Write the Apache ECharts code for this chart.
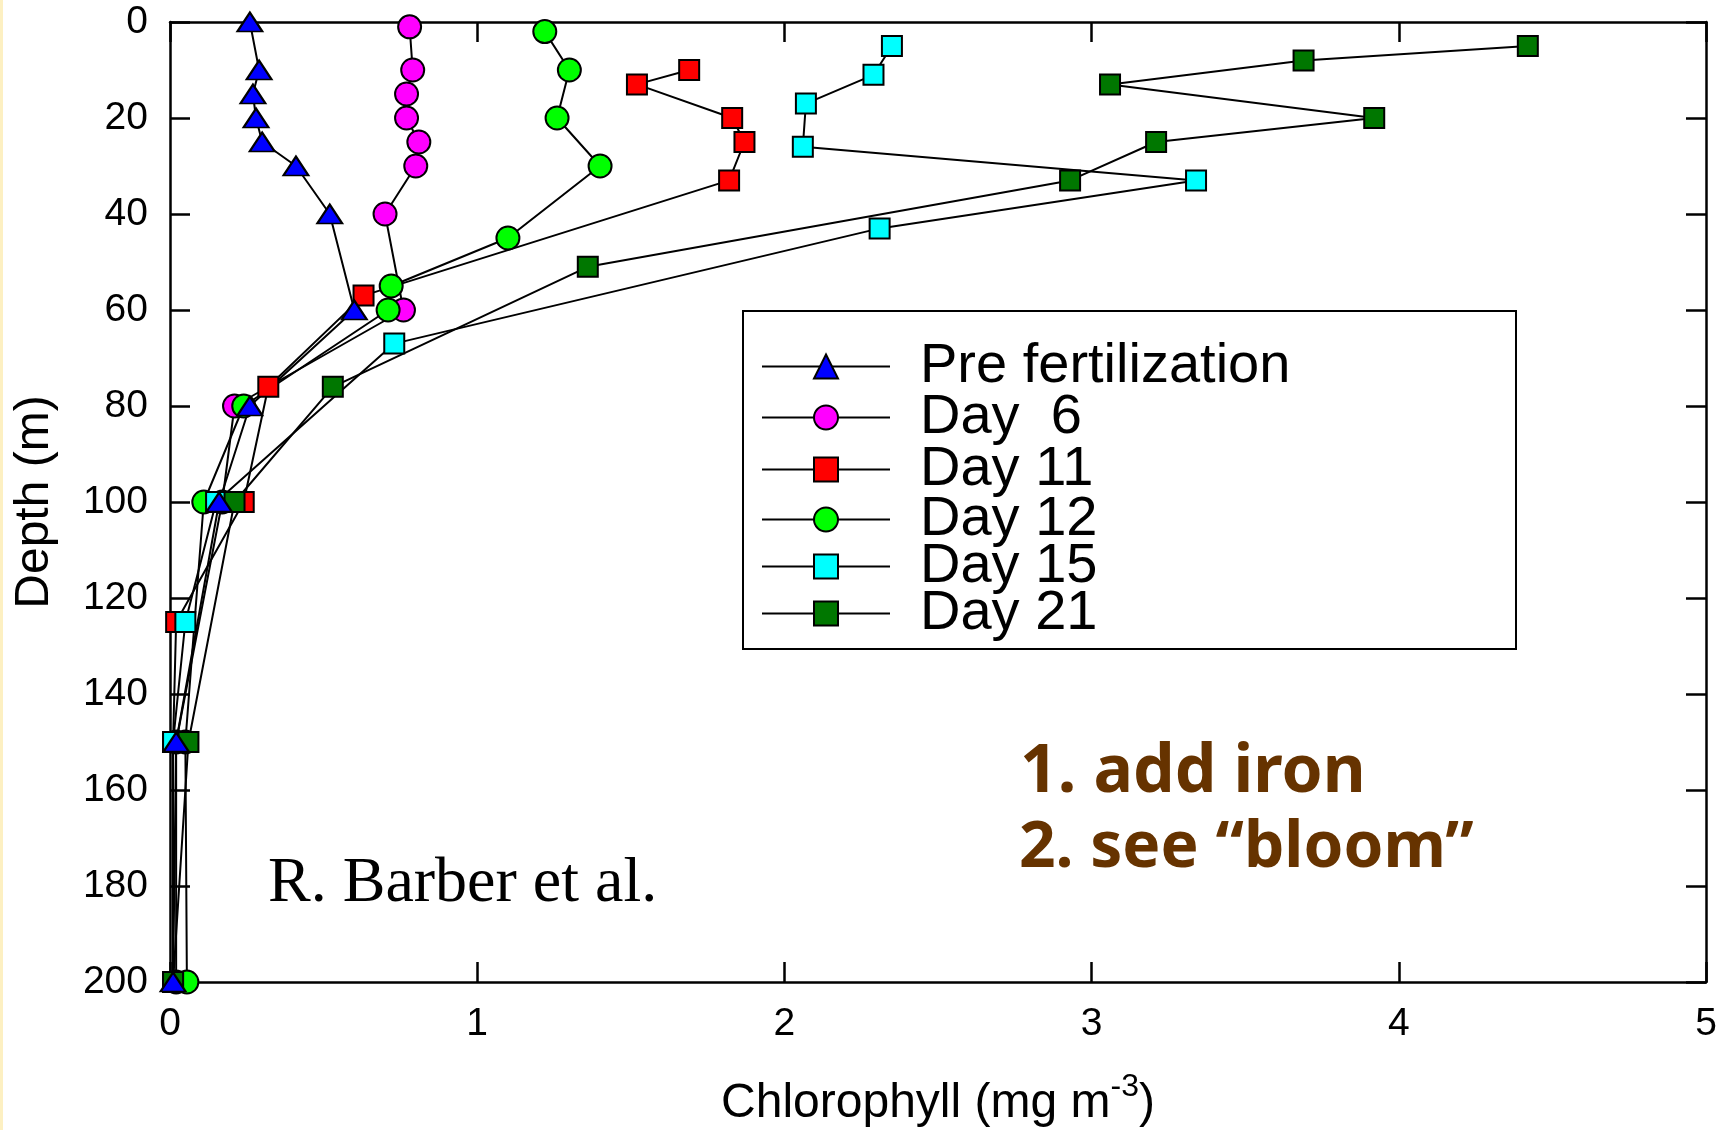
<!DOCTYPE html>
<html>
<head>
<meta charset="utf-8">
<script src="https://cdn.jsdelivr.net/npm/echarts@6/dist/echarts.min.js"></script>
<style>
html,body{margin:0;padding:0;background:#fff;}
#chart{width:1726px;height:1130px;}
</style>
</head>
<body>
<div id="chart"></div>
<script>
// ---- data (chlorophyll mg m-3 vs depth m) ----
const depthsPre   = [0, 10, 15, 20, 25, 30, 40, 60, 80, 100, 150, 200];
const chlPre      = [0.26, 0.29, 0.27, 0.28, 0.30, 0.41, 0.52, 0.60, 0.26, 0.16, 0.02, 0.01];
const depthsDay6  = [1, 10, 15, 20, 25, 30, 40, 60, 80, 100, 150, 200];
const chlDay6     = [0.78, 0.79, 0.77, 0.77, 0.81, 0.80, 0.70, 0.76, 0.21, 0.17, 0.02, 0.02];
const depthsDay11 = [10, 13, 20, 25, 33, 57, 76, 100, 125, 150, 200];
const chlDay11    = [1.69, 1.52, 1.83, 1.87, 1.82, 0.63, 0.32, 0.24, 0.02, 0.01, 0.01];
const depthsDay12 = [2, 10, 20, 30, 45, 55, 60, 80, 100, 150, 200];
const chlDay12    = [1.22, 1.30, 1.26, 1.40, 1.10, 0.72, 0.71, 0.24, 0.11, 0.05, 0.055];
const depthsDay15 = [5, 11, 17, 26, 33, 43, 67, 100, 125, 150, 200];
const chlDay15    = [2.35, 2.29, 2.07, 2.06, 3.34, 2.31, 0.73, 0.15, 0.05, 0.01, 0.01];
const depthsDay21 = [5, 8, 13, 20, 25, 33, 51, 76, 100, 150, 200];
const chlDay21    = [4.42, 3.69, 3.06, 3.92, 3.21, 2.93, 1.36, 0.53, 0.21, 0.06, 0.01];

const seriesNames = ['Pre fertilization', 'Day  6', 'Day 11', 'Day 12', 'Day 15', 'Day 21'];
const xTicks = [0, 1, 2, 3, 4, 5];
const yTicks = [0, 20, 40, 60, 80, 100, 120, 140, 160, 180, 200];
const xTitle = 'Chlorophyll (mg m';
const xTitleSup = '-3';
const yTitle = 'Depth (m)';
const note1 = '1. add iron';
const note2 = '2. see \u201cbloom\u201d';
const credit = 'R. Barber et al.';

// ---- layout constants ----
const legendRowY = [363, 414, 466, 516, 563, 610];
const legendFont = 56;
const legendPadTop = 7;

function pairs(xs, ds) { return xs.map((v, i) => [v, ds[i]]); }

const styleBySeries = {
  'Pre fertilization': { symbol: 'triangle', size: [25, 19], color: '#0000FF' },
  'Day  6':  { symbol: 'circle', size: 23, color: '#FF00FF' },
  'Day 11':  { symbol: 'rect',   size: 20, color: '#FF0000' },
  'Day 12':  { symbol: 'circle', size: 23, color: '#00FF00' },
  'Day 15':  { symbol: 'rect',   size: 20, color: '#00FFFF' },
  'Day 21':  { symbol: 'rect',   size: 20, color: '#007700' }
};
const dataByName = {
  'Pre fertilization': pairs(chlPre, depthsPre),
  'Day  6': pairs(chlDay6, depthsDay6),
  'Day 11': pairs(chlDay11, depthsDay11),
  'Day 12': pairs(chlDay12, depthsDay12),
  'Day 15': pairs(chlDay15, depthsDay15),
  'Day 21': pairs(chlDay21, depthsDay21)
};
// drawing order (pre fertilization on top)
const drawOrder = ['Day  6', 'Day 11', 'Day 12', 'Day 15', 'Day 21', 'Pre fertilization'];

const series = drawOrder.map(name => {
  const s = styleBySeries[name];
  return {
    name: name,
    type: 'line',
    data: dataByName[name],
    symbol: s.symbol,
    symbolSize: s.size,
    showAllSymbol: true,
    itemStyle: { color: s.color, borderColor: '#000', borderWidth: 2 },
    lineStyle: { color: '#000', width: 2 },
    emphasis: { disabled: true },
    animation: false
  };
});

const legends = seriesNames.map((name, i) => ({
  data: [name],
  orient: 'vertical',
  left: 761,
  top: legendRowY[i] - 15 - (legendFont / 2 - legendPadTop / 2 - 15),
  padding: 0,
  itemWidth: 128,
  itemHeight: 30,
  selectedMode: false,
  textStyle: {
    fontFamily: 'Liberation Sans',
    fontSize: legendFont,
    color: '#000',
    padding: [legendPadTop, 0, 0, 25]
  }
}));

const axisCommon = {
  axisLine: { show: true, onZero: false, lineStyle: { color: '#000', width: 2.5 } },
  axisTick: { show: true, inside: true, length: 20, lineStyle: { color: '#000', width: 2.5 } },
  splitLine: { show: false }
};

const option = {
  backgroundColor: '#fff',
  animation: false,
  grid: { left: 170, right: 20, top: 22, bottom: 148, containLabel: false, outerBoundsMode: 'none' },
  legend: legends,
  xAxis: [
    Object.assign({}, axisCommon, {
      type: 'value', position: 'bottom', min: xTicks[0], max: xTicks[xTicks.length - 1], interval: 1,
      axisLabel: { show: true, margin: 23, color: '#000', fontFamily: 'Liberation Sans', fontSize: 39,
                   showMinLabel: true, showMaxLabel: true },
      name: xTitle + '{sup|' + xTitleSup + '}' + ')',
      nameLocation: 'middle',
      nameGap: 89,
      nameTextStyle: {
        fontFamily: 'Liberation Sans', fontSize: 48, color: '#000',
        rich: { sup: { fontFamily: 'Liberation Sans', fontSize: 32, color: '#000', padding: [0, 0, 33, 0] } }
      }
    }),
    Object.assign({}, axisCommon, {
      type: 'value', position: 'top', min: xTicks[0], max: xTicks[xTicks.length - 1], interval: 1,
      axisLabel: { show: false }
    })
  ],
  yAxis: [
    Object.assign({}, axisCommon, {
      type: 'value', position: 'left', inverse: true, min: yTicks[0], max: yTicks[yTicks.length - 1], interval: 20,
      axisLabel: { show: true, margin: 22, color: '#000', fontFamily: 'Liberation Sans', fontSize: 39,
                   showMinLabel: true, showMaxLabel: true },
      name: yTitle,
      nameLocation: 'middle',
      nameRotate: 90,
      nameGap: 111,
      nameTextStyle: { fontFamily: 'Liberation Sans', fontSize: 48, color: '#000' }
    }),
    Object.assign({}, axisCommon, {
      type: 'value', position: 'right', inverse: true, min: yTicks[0], max: yTicks[yTicks.length - 1], interval: 20,
      axisLabel: { show: false }
    })
  ],
  series: series,
  graphic: [
    { type: 'rect', x: 0, y: 0, shape: { x: 0, y: 0, width: 3, height: 1130 }, style: { fill: '#FDF0C2' }, silent: true },
    { type: 'rect', x: 0, y: 0, shape: { x: 743, y: 311, width: 773, height: 338 },
      style: { fill: 'rgba(255,255,255,0)', stroke: '#000', lineWidth: 2 }, silent: true, z: -1 },
    { type: 'text', x: 268, y: 884, silent: true,
      style: { text: credit, fontFamily: 'Liberation Serif', fontSize: 64, fill: '#000', align: 'left', verticalAlign: 'middle' } },
    { type: 'text', x: 1020, y: 773, silent: true,
      style: { text: note1, fontFamily: 'Noto Sans', fontWeight: 'bold', fontSize: 66, fill: '#663300', align: 'left', verticalAlign: 'middle' } },
    { type: 'text', x: 1019, y: 849, silent: true,
      style: { text: note2, fontFamily: 'Noto Sans', fontWeight: 'bold', fontSize: 64, fill: '#663300', align: 'left', verticalAlign: 'middle' } }
  ]
};

const chart = echarts.init(document.getElementById('chart'), null, { renderer: 'canvas' });
chart.setOption(option);
</script>
</body>
</html>
